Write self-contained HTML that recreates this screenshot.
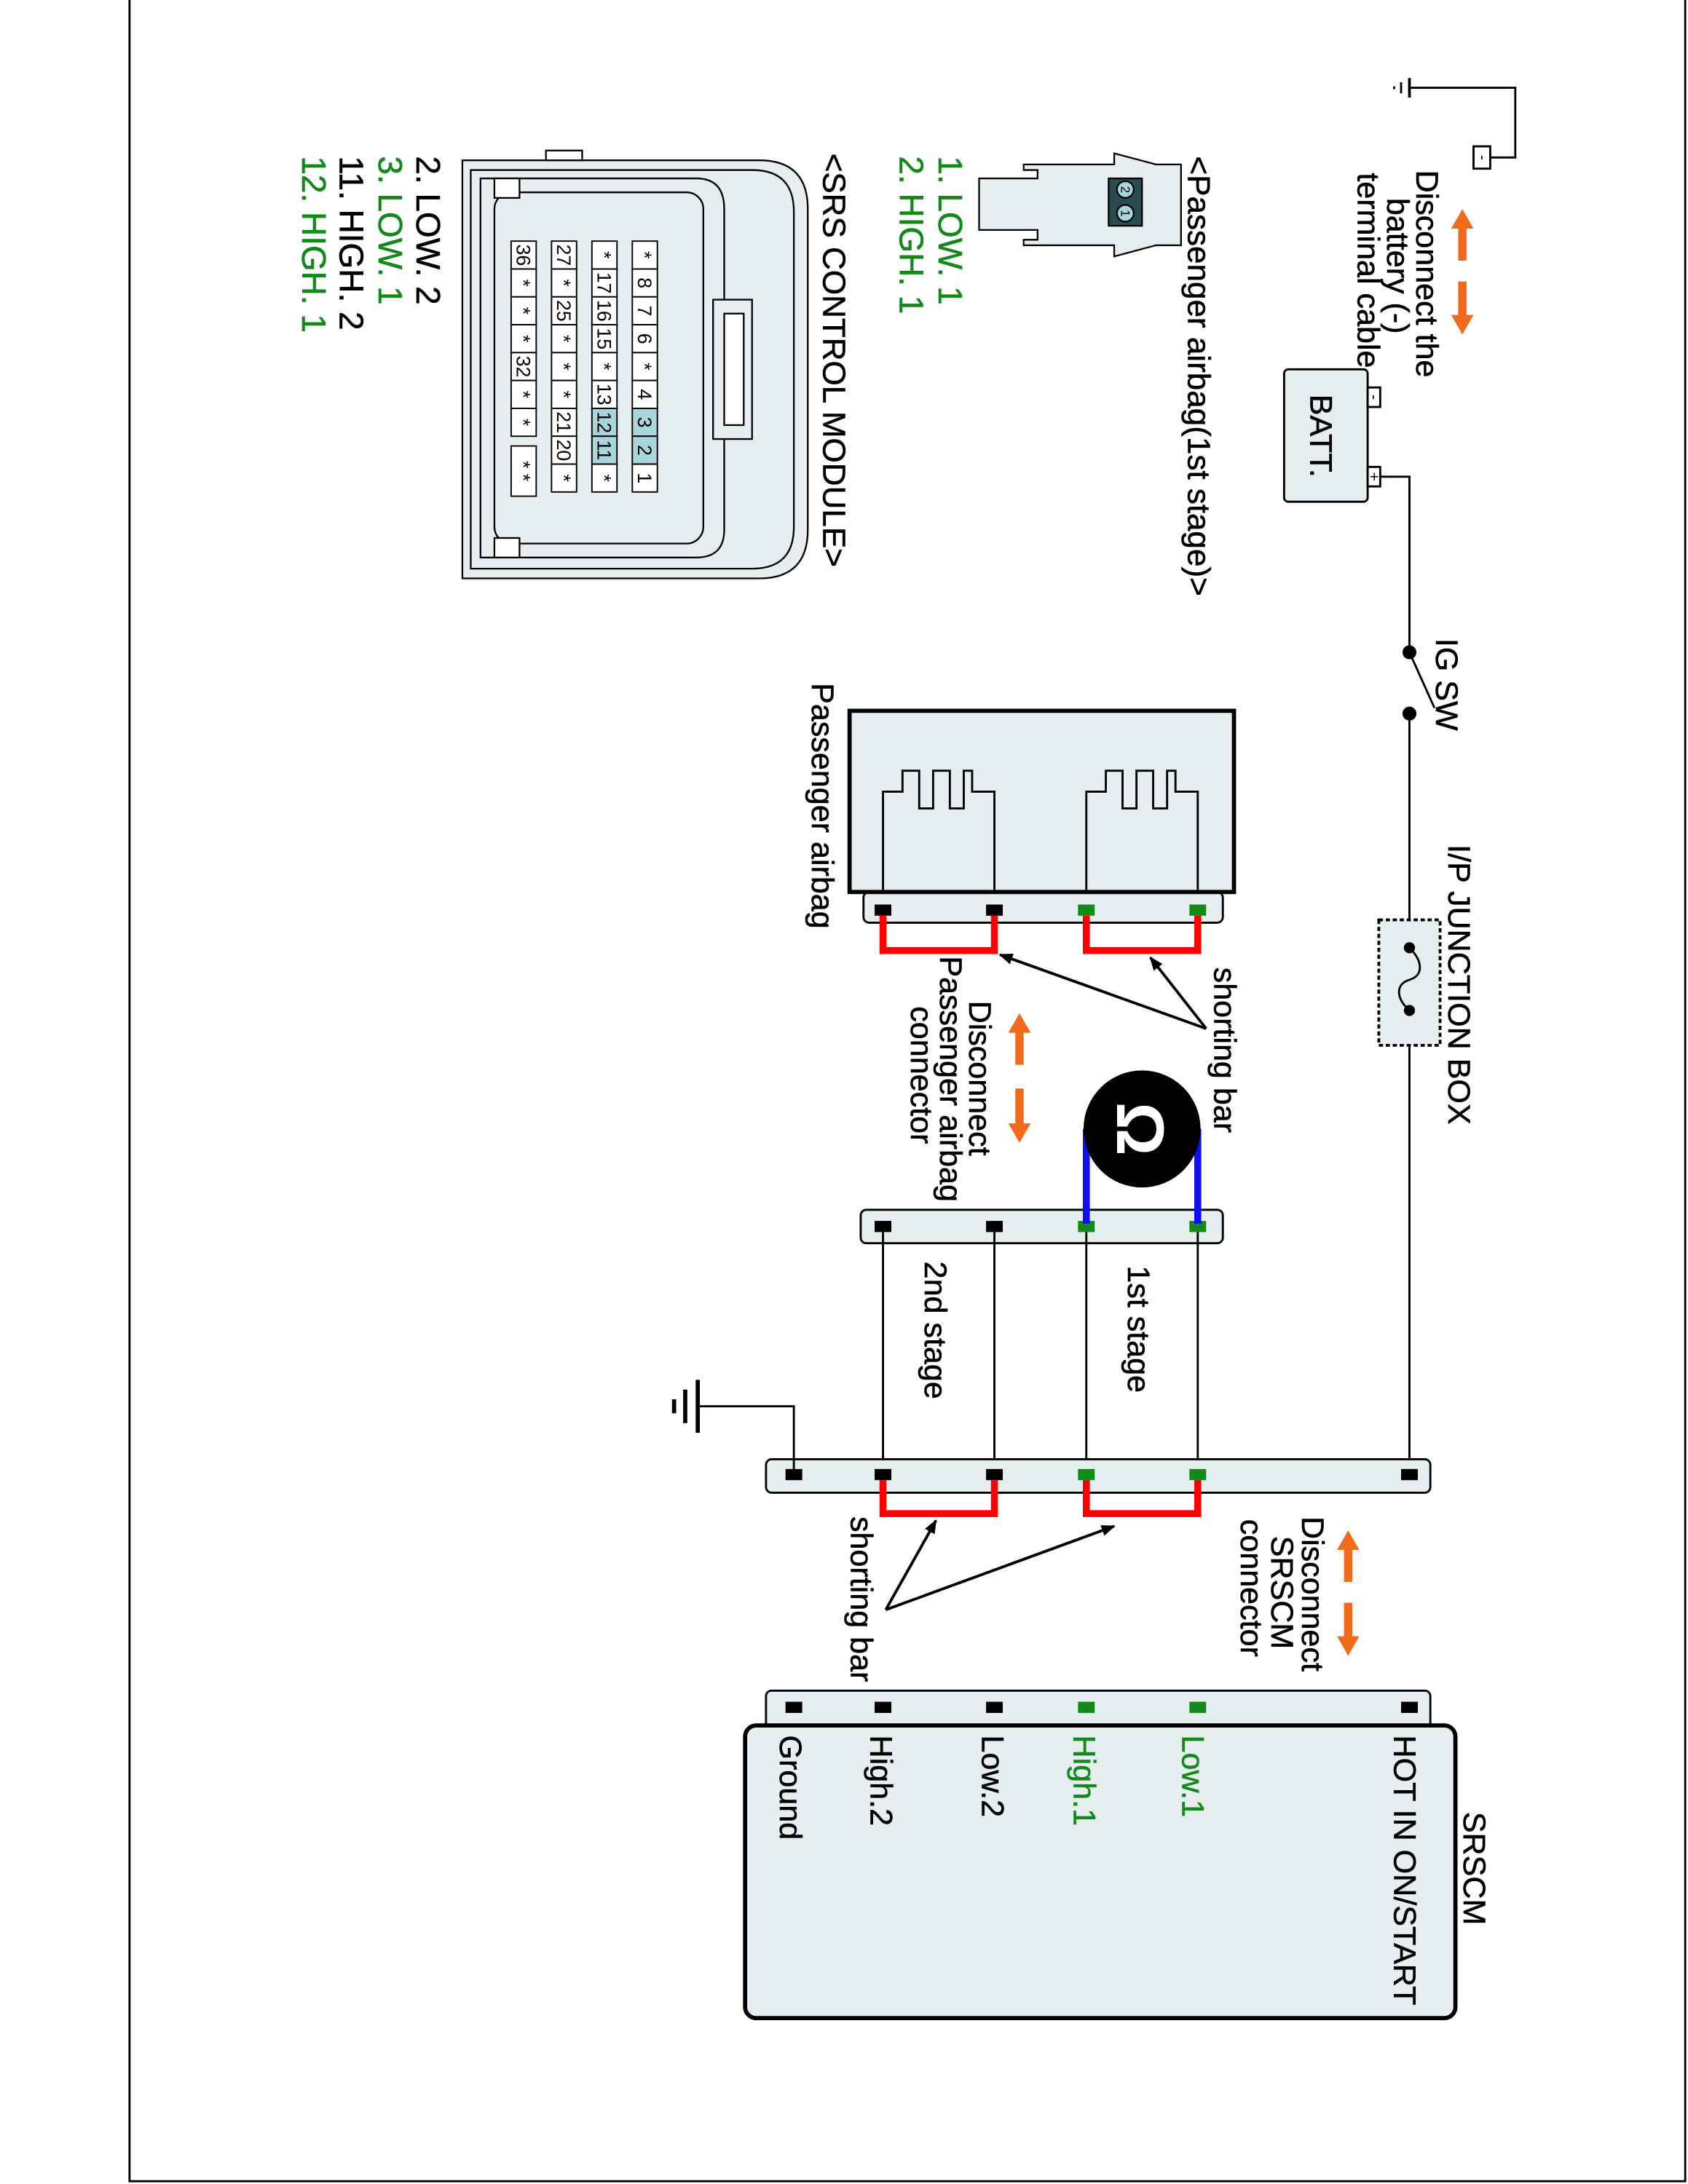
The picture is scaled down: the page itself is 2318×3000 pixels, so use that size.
<!DOCTYPE html>
<html><head><meta charset="utf-8"><style>
html,body{margin:0;padding:0;background:#fff}
svg{display:block}
text{font-family:"Liberation Sans",Arial,sans-serif}
</style></head><body>
<svg width="2318" height="3000" viewBox="0 0 1212 1567" preserveAspectRatio="none" xmlns="http://www.w3.org/2000/svg">
<rect x="0" y="0" width="1212" height="1567" fill="#fff"/>
<rect x="93" y="-2" width="1117" height="1567" fill="none" stroke="#000" stroke-width="1.5"/>

<g stroke="#000" fill="none" stroke-width="1.5">
<line x1="1012" y1="56" x2="1012" y2="70" stroke-width="2"/>
<line x1="1006" y1="59" x2="1006" y2="67"/>
<line x1="1001" y1="62" x2="1001" y2="64"/>
<polyline points="1012,63 1088,63 1088,113 1070,113"/>
<rect x="1058" y="105" width="12" height="16" fill="#fff"/>
<rect x="922" y="265" width="60" height="95" rx="3" fill="#e6eef0"/>
<rect x="982" y="278" width="9" height="14" fill="#fff"/>
<rect x="982" y="335" width="9" height="14" fill="#fff"/>
<polyline points="991,342 1012,342 1012,468"/>
<line x1="1012" y1="468" x2="1030" y2="508"/>
<line x1="1012" y1="512" x2="1012" y2="1058"/>
<rect x="990" y="660" width="44" height="90" fill="#e6eef0" stroke-dasharray="3,2" stroke-width="2"/>
<path d="M1012,680 C1022,690 1022,700 1012,703 C1002,706 1002,716 1012,725"/>
<rect x="620" y="640" width="258" height="22" rx="4" fill="#e6eef0"/>
<rect x="610" y="510" width="276" height="130" fill="#e6eef0" stroke-width="3"/>
<path d="M634,640 V568 H648 V553 H660 V580 H670 V553 H682 V580 H692 V553 H698 V568 H714 V640"/>
<path d="M780,640 V568 H794 V553 H806 V580 H816 V553 H828 V580 H838 V553 H844 V568 H860 V640"/>
<rect x="618" y="868" width="260" height="24" rx="4" fill="#e6eef0"/>
<line x1="634" y1="880" x2="634" y2="1058"/>
<line x1="714" y1="880" x2="714" y2="1058"/>
<line x1="780" y1="880" x2="780" y2="1058"/>
<line x1="860" y1="880" x2="860" y2="1058"/>
<rect x="550" y="1047" width="477" height="24" rx="4" fill="#e6eef0"/>
<polyline points="570,1058 570,1009 501,1009"/>
<line x1="501" y1="990" x2="501" y2="1028" stroke-width="3"/>
<line x1="492" y1="997" x2="492" y2="1021" stroke-width="3"/>
<line x1="484" y1="1004" x2="484" y2="1014" stroke-width="3"/>
<rect x="550" y="1213" width="477" height="30" rx="4" fill="#e6eef0"/>
<rect x="535" y="1238" width="510" height="210" rx="8" fill="#e6eef0" stroke-width="3"/>
</g>
<g fill="#000">
<circle cx="1012" cy="468" r="5"/><circle cx="1012" cy="512" r="5"/>
<circle cx="1012" cy="680" r="4"/><circle cx="1012" cy="725" r="4"/>
</g>
<g>
<rect x="628" y="649" width="12" height="8" fill="#000"/><rect x="708" y="649" width="12" height="8" fill="#000"/>
<rect x="774" y="649" width="12" height="8" fill="#128a1a"/><rect x="854" y="649" width="12" height="8" fill="#128a1a"/>
<rect x="628" y="876" width="12" height="8" fill="#000"/><rect x="708" y="876" width="12" height="8" fill="#000"/>
<rect x="774" y="876" width="12" height="8" fill="#128a1a"/><rect x="854" y="876" width="12" height="8" fill="#128a1a"/>
<rect x="564" y="1054" width="12" height="8" fill="#000"/>
<rect x="628" y="1054" width="12" height="8" fill="#000"/><rect x="708" y="1054" width="12" height="8" fill="#000"/>
<rect x="774" y="1054" width="12" height="8" fill="#128a1a"/><rect x="854" y="1054" width="12" height="8" fill="#128a1a"/>
<rect x="1006" y="1054" width="12" height="8" fill="#000"/>
<rect x="564" y="1221" width="12" height="8" fill="#000"/>
<rect x="628" y="1221" width="12" height="8" fill="#000"/><rect x="708" y="1221" width="12" height="8" fill="#000"/>
<rect x="774" y="1221" width="12" height="8" fill="#128a1a"/><rect x="854" y="1221" width="12" height="8" fill="#128a1a"/>
<rect x="1006" y="1221" width="12" height="8" fill="#000"/>
</g>
<g stroke="#f00" stroke-width="5" fill="none">
<polyline points="634,657 634,682 714,682 714,657"/>
<polyline points="780,657 780,682 860,682 860,657"/>
<polyline points="634,1062 634,1086 714,1086 714,1062"/>
<polyline points="780,1062 780,1086 860,1086 860,1062"/>
</g>
<g stroke="#1010ee" stroke-width="5"><line x1="780" y1="810" x2="780" y2="878"/><line x1="860" y1="810" x2="860" y2="878"/></g>
<circle cx="820" cy="810" r="42" fill="#000"/>
<text transform="translate(802,810) rotate(90)" font-size="48" font-weight="bold" fill="#fff" text-anchor="middle">Ω</text>
<defs><marker id="ah" markerWidth="10" markerHeight="8" refX="9" refY="4" orient="auto" markerUnits="userSpaceOnUse"><path d="M0,0 L10,4 L0,8 z" fill="#000"/></marker></defs>
<g stroke="#000" stroke-width="2" marker-end="url(#ah)">
<line x1="866" y1="738" x2="826" y2="687"/>
<line x1="866" y1="738" x2="718" y2="685"/>
<line x1="636" y1="1155" x2="672" y2="1091"/>
<line x1="636" y1="1155" x2="800" y2="1095"/>
</g>
<g fill="#f26a1b">
<path d="M1050,150 L1058,164 L1053,164 L1053,187 L1047,187 L1047,164 L1042,164 z"/>
<path d="M1050,240 L1058,226 L1053,226 L1053,202 L1047,202 L1047,226 L1042,226 z"/>
<path d="M732,727 L740,741 L735,741 L735,764 L729,764 L729,741 L724,741 z"/>
<path d="M732,820 L740,806 L735,806 L735,781 L729,781 L729,806 L724,806 z"/>
<path d="M968,1098 L976,1112 L971,1112 L971,1135 L965,1135 L965,1112 L960,1112 z"/>
<path d="M968,1188 L976,1174 L971,1174 L971,1150 L965,1150 L965,1174 L960,1174 z"/>
</g>

<g stroke="#000" stroke-width="1.2" fill="#e6eef0">
<path d="M332,115 H545 Q580,115 580,150 V380 Q580,415 545,415 H332 Z"/>
<path d="M338,122 H540 Q570,122 570,152 V378 Q570,408 540,408 H338 Z"/>
<path d="M345,128 H500 Q520,128 520,150 V380 Q520,400 500,400 H345 Z"/>
<rect x="355" y="138" width="150" height="252" rx="12"/>
<rect x="512" y="215" width="28" height="100"/>
<rect x="520" y="225" width="14" height="80" fill="#fff"/>
<rect x="392" y="108" width="26" height="7" fill="#fff"/>
<rect x="355" y="128" width="18" height="14" fill="#fff"/>
<rect x="355" y="386" width="18" height="14" fill="#fff"/>
</g>
<g stroke="#000" stroke-width="1">
<rect x="454" y="173" width="18" height="20" fill="#fff"/><rect x="454" y="193" width="18" height="20" fill="#fff"/><rect x="454" y="213" width="18" height="20" fill="#fff"/><rect x="454" y="233" width="18" height="20" fill="#fff"/><rect x="454" y="253" width="18" height="20" fill="#fff"/><rect x="454" y="273" width="18" height="20" fill="#fff"/><rect x="454" y="293" width="18" height="20" fill="#a9d6dd"/><rect x="454" y="313" width="18" height="20" fill="#a9d6dd"/><rect x="454" y="333" width="18" height="20" fill="#fff"/>
<rect x="425" y="173" width="18" height="20" fill="#fff"/><rect x="425" y="193" width="18" height="20" fill="#fff"/><rect x="425" y="213" width="18" height="20" fill="#fff"/><rect x="425" y="233" width="18" height="20" fill="#fff"/><rect x="425" y="253" width="18" height="20" fill="#fff"/><rect x="425" y="273" width="18" height="20" fill="#fff"/><rect x="425" y="293" width="18" height="20" fill="#a9d6dd"/><rect x="425" y="313" width="18" height="20" fill="#a9d6dd"/><rect x="425" y="333" width="18" height="20" fill="#fff"/>
<rect x="396" y="173" width="18" height="20" fill="#fff"/><rect x="396" y="193" width="18" height="20" fill="#fff"/><rect x="396" y="213" width="18" height="20" fill="#fff"/><rect x="396" y="233" width="18" height="20" fill="#fff"/><rect x="396" y="253" width="18" height="20" fill="#fff"/><rect x="396" y="273" width="18" height="20" fill="#fff"/><rect x="396" y="293" width="18" height="20" fill="#fff"/><rect x="396" y="313" width="18" height="20" fill="#fff"/><rect x="396" y="333" width="18" height="20" fill="#fff"/>
<rect x="367" y="173" width="18" height="20" fill="#fff"/><rect x="367" y="193" width="18" height="20" fill="#fff"/><rect x="367" y="213" width="18" height="20" fill="#fff"/><rect x="367" y="233" width="18" height="20" fill="#fff"/><rect x="367" y="253" width="18" height="20" fill="#fff"/><rect x="367" y="273" width="18" height="20" fill="#fff"/><rect x="367" y="293" width="18" height="20" fill="#fff"/><rect x="367" y="320" width="18" height="36" fill="#fff"/>
</g>
<g font-size="14" fill="#000" text-anchor="middle">
<text transform="translate(458,183) rotate(90)">*</text><text transform="translate(458,203) rotate(90)">8</text><text transform="translate(458,223) rotate(90)">7</text><text transform="translate(458,243) rotate(90)">6</text><text transform="translate(458,263) rotate(90)">*</text><text transform="translate(458,283) rotate(90)">4</text><text transform="translate(458,303) rotate(90)">3</text><text transform="translate(458,323) rotate(90)">2</text><text transform="translate(458,343) rotate(90)">1</text>
<text transform="translate(429,183) rotate(90)">*</text><text transform="translate(429,203) rotate(90)">17</text><text transform="translate(429,223) rotate(90)">16</text><text transform="translate(429,243) rotate(90)">15</text><text transform="translate(429,263) rotate(90)">*</text><text transform="translate(429,283) rotate(90)">13</text><text transform="translate(429,303) rotate(90)">12</text><text transform="translate(429,323) rotate(90)">11</text><text transform="translate(429,343) rotate(90)">*</text>
<text transform="translate(400,183) rotate(90)">27</text><text transform="translate(400,203) rotate(90)">*</text><text transform="translate(400,223) rotate(90)">25</text><text transform="translate(400,243) rotate(90)">*</text><text transform="translate(400,263) rotate(90)">*</text><text transform="translate(400,283) rotate(90)">*</text><text transform="translate(400,303) rotate(90)">21</text><text transform="translate(400,323) rotate(90)">20</text><text transform="translate(400,343) rotate(90)">*</text>
<text transform="translate(371,183) rotate(90)">36</text><text transform="translate(371,203) rotate(90)">*</text><text transform="translate(371,223) rotate(90)">*</text><text transform="translate(371,243) rotate(90)">*</text><text transform="translate(371,263) rotate(90)">32</text><text transform="translate(371,283) rotate(90)">*</text><text transform="translate(371,303) rotate(90)">*</text><text transform="translate(371,338) rotate(90)">* *</text>
</g>

<g stroke="#000" stroke-width="1.2" fill="#e6eef0">
<path d="M703,128 H745 V122 H735 V118 H800 V110 L830,118 H848 V176 H830 L800,184 V176 H735 V172 H745 V165 H703 Z"/>
<rect x="796" y="128" width="24" height="34" fill="#2a4b50"/>
<circle cx="808" cy="136" r="6" fill="#a9d6dd"/><circle cx="808" cy="153" r="6" fill="#a9d6dd"/>
</g>
<g font-size="9" text-anchor="middle"><text transform="translate(805,136) rotate(90)">2</text><text transform="translate(805,153) rotate(90)">1</text></g>

<g font-size="22.5" fill="#000" stroke="#000" stroke-width="0.3">
<text transform="translate(1017,122) rotate(90)">Disconnect the</text>
<text transform="translate(996,142) rotate(90)">battery (-)</text>
<text transform="translate(975,124) rotate(90)">terminal cable</text>
<text transform="translate(1031,458) rotate(90)">IG SW</text>
<text transform="translate(1040,606) rotate(90)">I/P JUNCTION BOX</text>
<text transform="translate(583,490) rotate(90)">Passenger airbag</text>
<text transform="translate(872,694) rotate(90)">shorting bar</text>
<text transform="translate(696,718) rotate(90)">Disconnect</text>
<text transform="translate(675,686) rotate(90)">Passenger airbag</text>
<text transform="translate(654,722) rotate(90)">connector</text>
<text transform="translate(810,908) rotate(90)">1st stage</text>
<text transform="translate(664,905) rotate(90)">2nd stage</text>
<text transform="translate(935,1088) rotate(90)">Disconnect</text>
<text transform="translate(913,1102) rotate(90)">SRSCM</text>
<text transform="translate(891,1090) rotate(90)">connector</text>
<text transform="translate(611,1088) rotate(90)">shorting bar</text>
<text transform="translate(1051,1300) rotate(90)">SRSCM</text>
<text transform="translate(1001,1245) rotate(90)">HOT IN ON/START</text>
<text transform="translate(849,1245) rotate(90)" fill="#128a1a" stroke="#128a1a">Low.1</text>
<text transform="translate(771,1245) rotate(90)" fill="#128a1a" stroke="#128a1a">High.1</text>
<text transform="translate(705,1245) rotate(90)">Low.2</text>
<text transform="translate(625,1245) rotate(90)">High.2</text>
<text transform="translate(560,1245) rotate(90)">Ground</text>
<text transform="translate(941,283) rotate(90)">BATT.</text>
</g>
<g font-size="11" text-anchor="middle">
<text transform="translate(983,285) rotate(90)">-</text>
<text transform="translate(983,342) rotate(90)">+</text>
<text transform="translate(1061,113) rotate(90)">-</text>
</g>
<g font-size="23" fill="#000" stroke="#000" stroke-width="0.3">
<text transform="translate(853,112) rotate(90)">&lt;Passenger airbag(1st stage)&gt;</text>
<text transform="translate(591,110) rotate(90)">&lt;SRS CONTROL MODULE&gt;</text>
</g>
<g font-size="24" fill="#000" stroke="#000" stroke-width="0.3">
<text transform="translate(674,112) rotate(90)" fill="#128a1a" stroke="#128a1a">1. LOW. 1</text>
<text transform="translate(646,112) rotate(90)" fill="#128a1a" stroke="#128a1a">2. HIGH. 1</text>
<text transform="translate(299,112) rotate(90)">2. LOW. 2</text>
<text transform="translate(272,112) rotate(90)" fill="#128a1a" stroke="#128a1a">3. LOW. 1</text>
<text transform="translate(244,112) rotate(90)">11. HIGH. 2</text>
<text transform="translate(217,112) rotate(90)" fill="#128a1a" stroke="#128a1a">12. HIGH. 1</text>
</g>
</svg>
</body></html>
